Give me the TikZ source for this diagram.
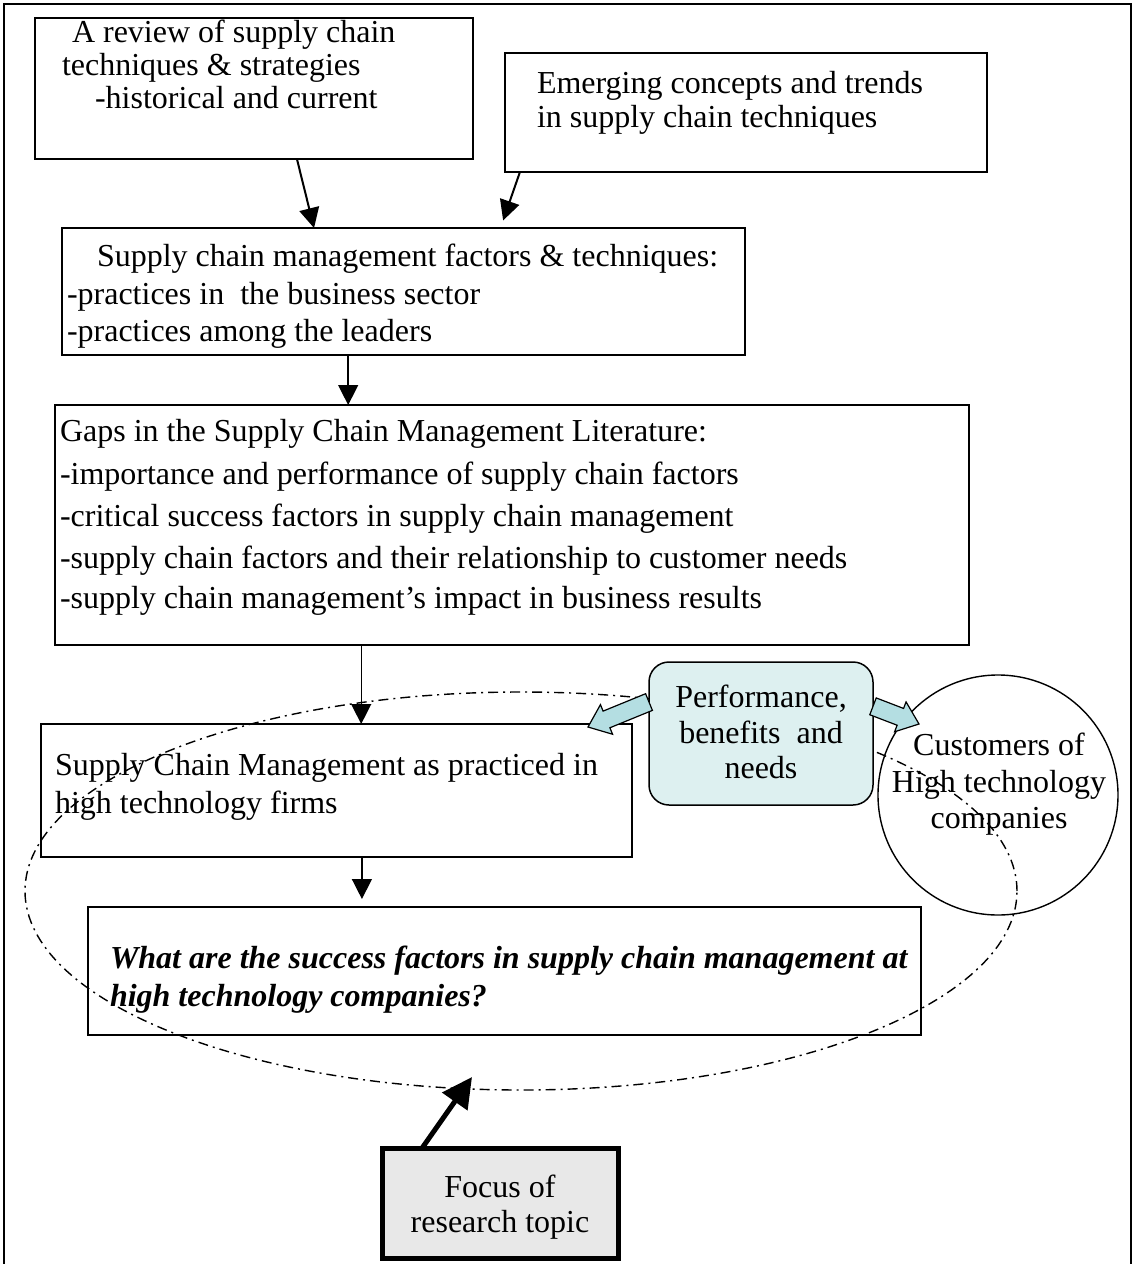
\documentclass[tikz,border=0pt]{standalone}
\usepackage{fontspec}
\setmainfont{Liberation Serif}
\usetikzlibrary{arrows.meta,calc,fit}
\definecolor{boxblue}{RGB}{221,240,240}
\definecolor{arrblue}{RGB}{180,222,226}
\definecolor{focusgray}{RGB}{232,232,232}

% filled block arrow from #1 to tip #2
\newcommand\blockarrow[2]{%
  \coordinate (ba-hb) at ($(#2)!10pt!(#1)$);
  \draw[blockarr]
    ($(#1)!4.5pt!90:(#2)$) -- ($(ba-hb)!4.5pt!90:(#2)$) -- ($(ba-hb)!8pt!90:(#2)$)
    -- (#2) -- ($(ba-hb)!8pt!-90:(#2)$) -- ($(ba-hb)!4.5pt!-90:(#2)$)
    -- ($(#1)!4.5pt!-90:(#2)$) -- cycle;
}

\begin{document}
\begin{tikzpicture}[x=0.5pt,y=-0.5pt,
  every node/.style={inner sep=0pt, outer sep=0pt},
  box/.style={draw, line width=0.75pt, rectangle},
  txt/.style={anchor=base west, font=\fontsize{16}{18}\selectfont},
  ctxt/.style={anchor=base, font=\fontsize{16}{18}\selectfont},
  link/.style={draw, line width=0.7pt, -{Triangle[length=10pt,width=10pt]}},
  slantlink/.style={link, line width=1pt},
  blockarr/.style={draw, line width=0.6pt, fill=arrblue, line join=miter},
  oval/.style={draw, line width=0.7pt, dash pattern=on 5pt off 2.5pt on 1pt off 2.5pt}]

\useasboundingbox (0,0) rectangle (1134,1264);

% page frame (open at the bottom)
\draw[line width=0.75pt] (4,1264) -- (4,4) -- (1131,4) -- (1131,1264);

% boxes
\node[box, fit={(35,18) (473,159)}] (review) {};
\node[box, fit={(505,53) (987,172)}] (emerging) {};
\node[box, fit={(62,228) (745,355)}] (scmf) {};
\node[box, fit={(55,405) (969,645)}] (gaps) {};
\node[box, fit={(41,724) (632,857)}] (practice) {};
\node[box, fit={(88,907) (921,1035)}] (question) {};
\node[draw, line width=2.5pt, fill=focusgray, fit={(382,1148) (618,1258)}] (focus) {};
\node[draw, line width=0.7pt, circle, minimum size=120pt] (cust) at (998,795) {};

% texts
\node[txt] (reviewA) at (72,42) {A review of supply chain};
\node[txt] (reviewB) at (62,75) {techniques \& strategies};
\node[txt] (reviewC) at (95,108) {-historical and current};

\node[txt] (emergA) at (537,93) {Emerging concepts and trends};
\node[txt] (emergB) at (537,127) {in supply chain techniques};

\node[txt] (scmfA) at (97,266) {Supply chain management factors \& techniques:};
\node[txt] (scmfB) at (67,304) {-practices in\ \ the business sector};
\node[txt] (scmfC) at (67,341) {-practices among the leaders};

\node[txt] (gapsA) at (60,441) {Gaps in the Supply Chain Management Literature:};
\node[txt] (gapsB) at (60,484) {-importance and performance of supply chain factors};
\node[txt] (gapsC) at (60,526) {-critical success factors in supply chain management};
\node[txt] (gapsD) at (60,568) {-supply chain factors and their relationship to customer needs};
\node[txt] (gapsE) at (60,608) {-supply chain management’s impact in business results};

\node[txt] (practA) at (55,775) {Supply Chain Management as practiced in};
\node[txt] (practB) at (55,813) {high technology firms};

\node[txt, font=\fontsize{16}{18}\selectfont\bfseries\itshape] (questA) at (110,968) {What are the success factors in supply chain management at};
\node[txt, font=\fontsize{16}{18}\selectfont\bfseries\itshape] (questB) at (110,1006) {high technology companies?};

\node[ctxt] (custA) at (999,755) {Customers of};
\node[ctxt] (custB) at (999,792) {High technology};
\node[ctxt] (custC) at (999,828) {companies};

\node[ctxt] (focusA) at (500,1197) {Focus of};
\node[ctxt] (focusB) at (500,1232) {research topic};

% dash-dot oval around the focus area
\draw[oval] (521,891) ellipse [x radius=248pt, y radius=99.5pt];
\coordinate (ovalTip) at (472,1077);

% connectors
\draw[slantlink] ($(review.south west)!0.598!(review.south east)$) -- ($(scmf.north west)!0.369!(scmf.north east)$);
\draw[slantlink, shorten >=4pt] ($(emerging.south west)!0.031!(emerging.south east)$) -- ($(scmf.north west)!0.642!(scmf.north east)$);
\coordinate (a3) at ($(scmf.south west)!0.419!(scmf.south east)$);
\draw[link] (a3) -- (a3 |- gaps.north);
\coordinate (a4) at ($(gaps.south west)!0.335!(gaps.south east)$);
\draw[link] (a4) -- (a4 |- practice.north);
\coordinate (a5) at ($(practice.south west)!0.543!(practice.south east)$);
\draw[link, shorten >=4pt] (a5) -- (a5 |- question.north);

\draw[line width=2.5pt, -{Triangle[length=15pt,width=15pt]}] ($(focus.north west)!0.17!(focus.north east)$) -- (ovalTip);

% performance box with its two block arrows
\node[draw, line width=0.75pt, fill=boxblue, rounded corners=10pt, fit={(649,662) (873,805)}] (perf) {};
\node[ctxt] (perfA) at (761,707) {Performance,};
\node[ctxt] (perfB) at (761,743) {benefits\ \ and};
\node[ctxt] (perfC) at (761,778) {needs};
\coordinate (leftTip) at (588,727);
\coordinate (rightTip) at (919,724);
\blockarrow{$(perf.north west)!0.28!(perf.south west)$}{leftTip}
\blockarrow{$(perf.north east)!0.31!(perf.south east)$}{rightTip}

\end{tikzpicture}
\end{document}
